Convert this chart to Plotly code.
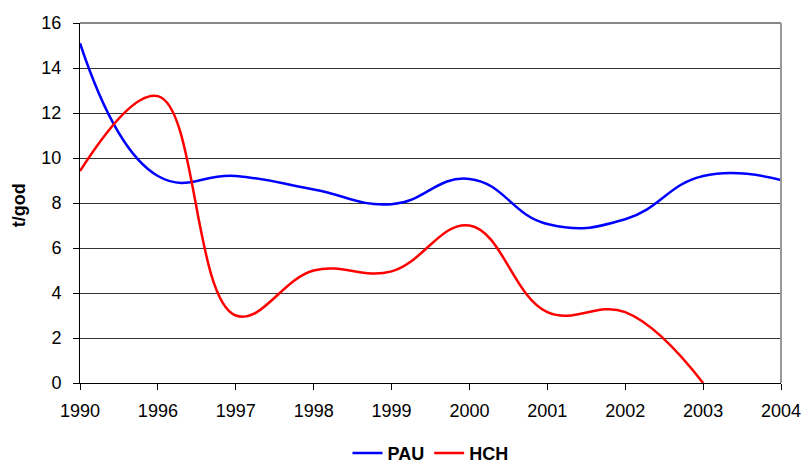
import plotly.graph_objects as go

years = ["1990", "1996", "1997", "1998", "1999", "2000", "2001", "2002", "2003", "2004"]
pau = [15.1, 9.2, 9.2, 8.6, 7.95, 9.07, 7.07, 7.28, 9.2, 9.02]
hch = [9.42, 12.75, 3.0, 5.0, 4.96, 7.0, 3.15, 3.15, 0.0, None]

FONT = "Liberation Sans, Arial, sans-serif"

fig = go.Figure()
fig.add_trace(go.Scatter(x=years, y=pau, name="PAU", mode="lines",
                         line=dict(color="#0000FF", width=2.5, shape="spline", smoothing=1.3)))
fig.add_trace(go.Scatter(x=years, y=hch, name="HCH", mode="lines",
                         line=dict(color="#FF0000", width=2.5, shape="spline", smoothing=1.15)))

fig.update_layout(
    template="none",
    width=803, height=466,
    margin=dict(l=80, r=22, t=23, b=83, autoexpand=False),
    paper_bgcolor="white", plot_bgcolor="white",
    font=dict(family=FONT, size=18, color="black"),
    showlegend=True,
    legend=dict(orientation="h", x=0.5, xanchor="center", y=-0.195, yanchor="middle",
                font=dict(family=FONT, size=18, color="black", weight="bold"),
                itemwidth=30, tracegroupgap=0, bgcolor="rgba(0,0,0,0)"),
    xaxis=dict(type="category", range=[0, 9], showgrid=False, showline=True,
               linecolor="black", linewidth=1, ticks="outside", ticklen=6,
               tickcolor="black", tickfont=dict(family=FONT, size=18), zeroline=False,
               automargin=False, ticklabelstandoff=5),
    yaxis=dict(range=[0, 16], dtick=2, showgrid=True, gridcolor="#333333", gridwidth=1,
               showline=True, linecolor="black", linewidth=1, ticks="outside", ticklen=6,
               tickcolor="black", tickfont=dict(family=FONT, size=18), zeroline=False,
               automargin=False, ticklabelstandoff=8),
    annotations=[dict(text="<b>t/god</b>", xref="paper", yref="paper",
                      x=-0.087, y=0.494, xanchor="center", yanchor="middle",
                      textangle=-90, showarrow=False,
                      font=dict(family=FONT, size=18, color="black"))],
    shapes=[
        dict(type="line", xref="paper", yref="paper", x0=0, x1=1, y0=1, y1=1,
             line=dict(color="#888888", width=2)),
        dict(type="line", xref="paper", yref="paper", x0=1, x1=1, y0=0, y1=1,
             line=dict(color="#999999", width=2)),
    ],
)

fig.write_html("out.html")
